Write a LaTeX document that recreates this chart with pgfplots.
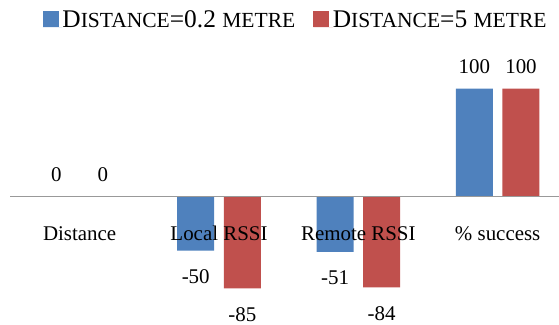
\documentclass[border=0pt]{standalone}
\usepackage{fontspec}
\setmainfont{Liberation Serif}
\usepackage{pgfplots}
\pgfplotsset{compat=1.18}
\definecolor{barblue}{HTML}{4F81BD}
\definecolor{barred}{HTML}{C0504D}
\newcommand{\Lg}{\fontsize{25.5}{26}\selectfont}
\newcommand{\Sm}{\fontsize{21.6}{22}\selectfont}
\newcommand{\Nf}{\fontsize{21}{22}\selectfont}
\begin{document}
\begin{tikzpicture}
\begin{axis}[
  at={(10bp,0bp)}, anchor=south west,
  scale only axis, width=549bp, height=325bp,
  xmin=-0.5, xmax=3.44, ymin=-118.8, ymax=182.1,
  axis on top,
  /pgf/number format/assume math mode=true,
  axis x line=middle, axis y line=none,
  x axis line style={draw=black!40, line width=1.2bp, -},
  xtick={0,1,2,3},
  xticklabels={Distance, Local RSSI, Remote RSSI, \% success},
  major tick length=0pt,
  xticklabel style={anchor=base, yshift=-43.6bp, font=\Nf, inner sep=0pt},
  ytick=\empty,
  ybar=9.6bp, bar width=37bp,
  visualization depends on={y \as \rawy},
  nodes near coords,
  every node near coord/.append style={font=\Nf, anchor=base, inner sep=0pt,
     yshift={\rawy<0 ? -33 : 15.5}},
  legend columns=2,
  legend style={at={(0.0596,0.969)}, anchor=north west, draw=none, fill=none,
     inner sep=0pt, font=\Lg, nodes={inner sep=0pt, anchor=base},
     /tikz/every even column/.append style={column sep=18bp}},
  legend image code/.code={\fill[#1] (0bp,0bp) rectangle (16bp,16bp); \path (0bp,0bp) -- (19.5bp,0bp);},
]
\addplot[fill=barblue, draw=none] coordinates {(0,0) (1,-50) (2,-51) (3,100)};
\addlegendentry{\Lg D\Sm ISTANCE\Lg =0.2 \Sm METRE}
\addplot[fill=barred, draw=none] coordinates {(0,0) (1,-85) (2,-84) (3,100)};
\addlegendentry{\Lg D\Sm ISTANCE\Lg =5 \Sm METRE}
\end{axis}
\pgfresetboundingbox
\path[use as bounding box] (0bp,0bp) rectangle (559bp,325bp);
\end{tikzpicture}
\end{document}
